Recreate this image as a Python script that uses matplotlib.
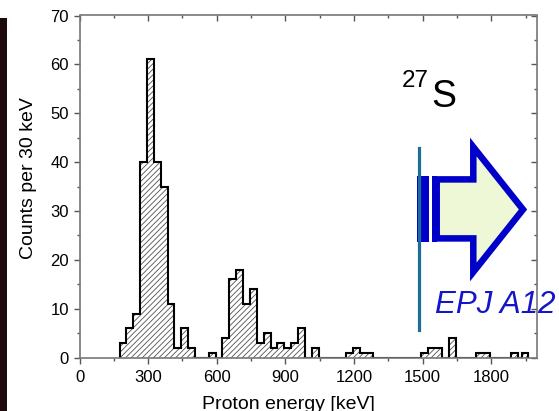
import matplotlib.pyplot as plt
from matplotlib.patches import Polygon, Rectangle
from matplotlib.ticker import MultipleLocator

# proton energy spectrum of 27S, 30 keV bins (last bin is narrower)
bin_edges = list(range(175, 1916, 30)) + [1935, 1960]
counts = [3, 6, 9, 40, 61, 40, 35, 11, 2, 6,
          2, 0, 0, 1, 0, 4, 16, 18, 11, 14,
          3, 5, 2, 3, 2, 3, 6, 0, 2, 0,
          0, 0, 0, 1, 2, 1, 1, 0, 0, 0,
          0, 0, 0, 0, 1, 2, 2, 0, 4, 0,
          0, 0, 1, 1, 0, 0, 0, 1, 0, 1]

x_ticks = [0, 300, 600, 900, 1200, 1500, 1800]
y_ticks = [0, 10, 20, 30, 40, 50, 60, 70]
line_energy = 1485
line_span = [5.6, 42.9]

W, H = 559, 411
plt.rcParams['font.family'] = ['Liberation Sans', 'DejaVu Sans']
plt.rcParams['hatch.linewidth'] = 0.6

fig = plt.figure(figsize=(W / 100, H / 100), dpi=100)
ax = fig.add_axes([79.5 / W, 1 - 357.5 / H, 457.5 / W, 342 / H])


def px(x, y):
    # pixel position (top-left origin) -> figure fraction
    return (x / W, 1 - y / H)


# hatched fill, then black step outline
ax.stairs(counts, bin_edges, fill=True, facecolor='white', edgecolor='#505050',
          hatch='//////', linewidth=0, zorder=2)
ax.stairs(counts, bin_edges, color='black', linewidth=1.5, zorder=2.5)

ax.set_xlim(0, 2000)
ax.set_ylim(0, 70)
ax.set_xticks(x_ticks)
ax.set_yticks(y_ticks)
ax.xaxis.set_minor_locator(MultipleLocator(150))
ax.yaxis.set_minor_locator(MultipleLocator(5))
ax.tick_params(which='both', labelsize=12, color='#555555', width=1)
ax.tick_params(which='major', length=4)
ax.tick_params(which='minor', length=2.5)
ax.tick_params(axis='x', which='both', direction='out', top=True, pad=5)
ax.tick_params(axis='y', which='both', direction='out', right=True, pad=3.5)
for s in ax.spines.values():
    s.set_color('#777777')
    s.set_linewidth(1.2)

# top/right ticks point inward
for t in ax.xaxis.get_major_ticks() + ax.xaxis.get_minor_ticks():
    t.tick2line.set_marker(3)
for t in ax.yaxis.get_major_ticks() + ax.yaxis.get_minor_ticks():
    t.tick2line.set_marker(0)

fig.text(*px(28.5, 178), 'Counts per 30 keV', rotation=90, ha='center',
         va='center', fontsize=14)
fig.text(*px(288.3, 408.5), 'Proton energy [keV]', ha='center',
         va='baseline', fontsize=14)

# dark strip at left edge of the slide
fig.add_artist(Rectangle(px(0, 411), 7.3 / W, (411 - 18) / H,
                         transform=fig.transFigure, facecolor='#1e0a0c',
                         edgecolor='none'))

# 27S label
fig.text(*px(401.5, 86.7), '27', fontsize=17.5, va='baseline', ha='left')
fig.text(*px(431, 106.7), 'S', fontsize=27, va='baseline', ha='left')

# block arrow
blue = '#0000c8'
arrow_pts = [px(436.7, 179.4), px(473.3, 179.4), px(473.3, 147),
             px(523, 209.5), px(473.3, 272), px(473.3, 238.4),
             px(436.7, 238.4)]
ax.add_patch(Polygon(arrow_pts, closed=True, transform=fig.transFigure,
                     facecolor='#eef8d6', edgecolor=blue, linewidth=4.7,
                     joinstyle='miter', clip_on=False, zorder=5))
for x0, x1 in [(417.3, 429.3), (431.7, 437)]:
    ax.add_patch(Rectangle(px(x0, 241.7), (x1 - x0) / W, (241.7 - 176) / H,
                           transform=fig.transFigure, facecolor=blue,
                           edgecolor='none', clip_on=False, zorder=6))

ax.plot([line_energy, line_energy], line_span, color='#1a6f96', linewidth=2.3,
        zorder=7, clip_on=False)

fig.text(*px(435, 312.7), 'EPJ A12', fontsize=22.5, style='italic',
         color='#1414c8', va='baseline', ha='left', zorder=8)

fig.savefig('out.png', dpi=100)
